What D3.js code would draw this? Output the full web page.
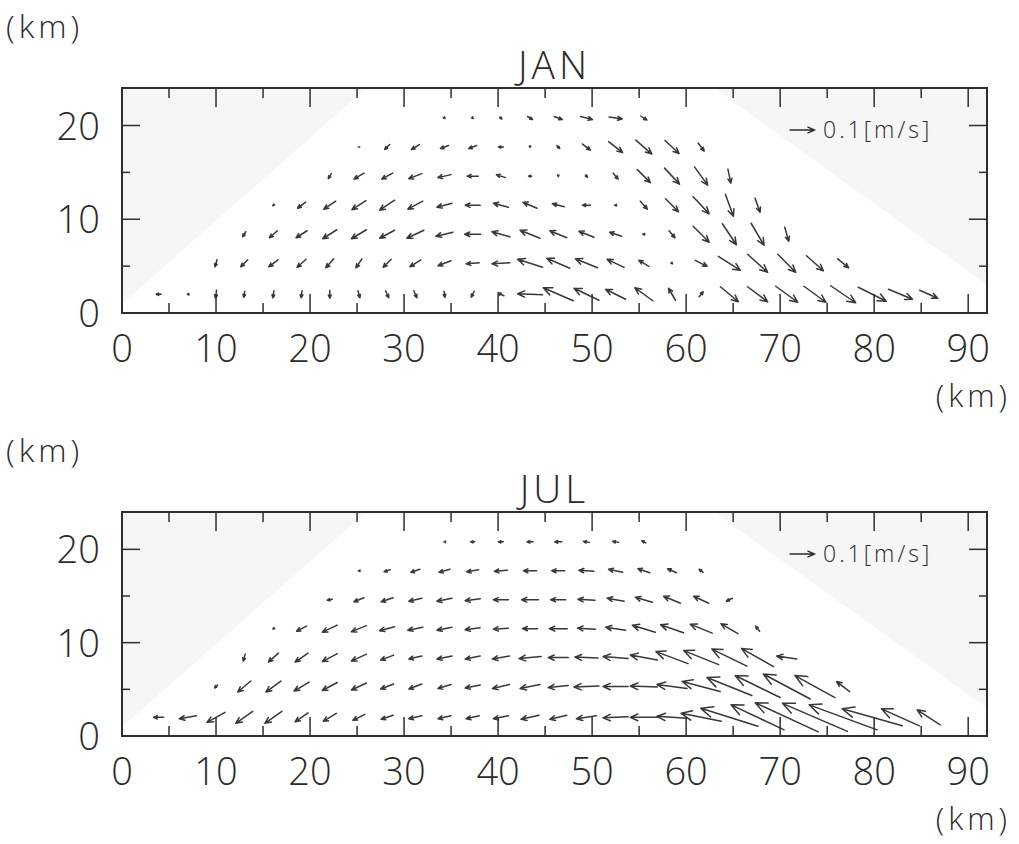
<!DOCTYPE html>
<html><head><meta charset="utf-8">
<script src="https://cdn.jsdelivr.net/npm/d3@7"></script>
<style>
body{margin:0;background:#fff}
svg{display:block}
text{font-family:"Open Sans","DejaVu Sans",sans-serif;font-weight:300;fill:#2b2b2b}
</style>
</head><body>
<svg id="c" width="1019" height="844"></svg>
<script>
const _ = null;
// grid of vector positions (km)
const xCols = [3.9, 7.0, 10.0, 13.0, 16.1, 19.1, 22.1, 25.2, 28.2, 31.2, 34.3, 37.3, 40.3, 43.4,
               46.4, 49.4, 52.5, 55.5, 58.5, 61.6, 64.6, 67.6, 70.7, 73.7, 76.7, 79.8, 82.8, 85.8];
const zRows = [2.0, 5.3, 8.4, 11.5, 14.6, 17.7, 20.8];
const xTickLabels = [0, 10, 20, 30, 40, 50, 60, 70, 80, 90];
const yTickLabels = [0, 10, 20];
const refSpeed = 10;   // cm/s  (0.1 m/s)
const refLabel = "0.1[m/s]";

// JAN  horizontal component u (cm/s), rows bottom -> top
const janU = [
 [-2,-0.4,-0.4,-0.4,-0.4,-0.4,0,0.8,1.2,1.2,0.4,-1.2,-2.4,-10,-12,-10,-8,-7.2,-2.8,1.6,7.2,8,8.8,8.8,10,11.2,9.6,7.2],
 [_,_,-0.8,-2.8,-3.6,-3.6,-3.2,-2.4,-3.2,-4.4,-5.2,-5.2,-7.2,-10,-9.2,-8.8,-6.8,-4,0.4,4.8,8.8,8,7.2,6.8,4.4,_,_,_],
 [_,_,_,-1.2,-3.2,-4.4,-5.6,-6,-6,-6.8,-6.8,-6.4,-7.2,-8,-6.8,-6,-4.8,-0.8,2.4,6.4,5.6,5.2,1.6,_,_,_,_,_],
 [_,_,_,_,-0.4,-3.2,-4.8,-5.6,-6,-6,-6,-6,-6,-5.6,-4.8,-3.2,-0.8,2.8,5.2,6.4,3.2,2,_,_,_,_,_,_],
 [_,_,_,_,_,_,-1.2,-4,-4.4,-5.2,-5.2,-4.4,-3.6,-1.2,0,0.8,2,5.2,6,5.2,1.2,_,_,_,_,_,_,_],
 [_,_,_,_,_,_,_,0.2,-2,-3.2,-3.2,-3.2,-2,0,1.2,3.2,5.6,6.4,5.6,2.4,_,_,_,_,_,_,_,_],
 [_,_,_,_,_,_,_,_,_,_,0.4,0.4,0.8,2,3.2,4.8,5.2,2.4,_,_,_,_,_,_,_,_,_,_]
];
// JAN  vertical component w (display units, cm/s equivalent)
const janW = [
 [0,0,-3.2,-2.4,-2.8,-2.8,-3.2,-2.8,-2.8,-2.8,-2.4,-2.4,1.2,0.4,5.2,4.8,4,5.2,4.8,2,-6,-6,-6.4,-6.4,-6.8,-5.6,-4,-3.2],
 [_,_,-2.8,-2.8,-2.8,-3.2,-3.6,-3.6,-3.2,-2.8,-2,-0.4,-0.4,3.2,4,3.6,3.2,2.4,-0.4,-2.4,-5.6,-7.2,-7.2,-6,-3.6,_,_,_],
 [_,_,_,-2,-2.8,-2.8,-3.6,-3.6,-3.2,-3.2,-1.6,0,2,3.2,2.8,2.4,1.6,0,-2.8,-6.4,-8.4,-8.8,-5.6,_,_,_,_,_],
 [_,_,_,_,-0.4,-2.4,-3.2,-3.6,-4,-3.2,-1.6,0,1.6,2.4,1.2,0,0,-3.2,-5.2,-6.8,-8.8,-5.6,_,_,_,_,_,_],
 [_,_,_,_,_,_,-2,-2.4,-2.4,-2,-1.2,0,1.2,0,-0.4,-0.8,-2.4,-5.2,-6.4,-7.2,-5.6,_,_,_,_,_,_,_],
 [_,_,_,_,_,_,_,-0.2,-2,-2,-1.2,-1.2,0,-0.4,-1.2,-2.4,-4.4,-5.6,-5.2,-3.2,_,_,_,_,_,_,_,_],
 [_,_,_,_,_,_,_,_,_,_,-0.4,-0.4,-0.8,-1.2,-1.2,-1.2,-0.8,-1.6,_,_,_,_,_,_,_,_,_,_]
];
// JUL  u
const julU = [
 [-4,-6.8,-7.2,-6.8,-6.8,-5.2,-5.2,-4.8,-4.8,-5.2,-5.2,-5.2,-6,-7.2,-6.8,-8,-10,-10.8,-12,-16,-22.8,-21.2,-25.2,-26,-27.2,-24,-15.2,-9.2],
 [_,_,-1.2,-5.2,-6,-6,-6,-6,-5.2,-5.2,-5.2,-6,-6.8,-8,-8,-10,-10,-10.8,-12,-15.2,-18,-18,-18.8,-16,-5.2,_,_,_],
 [_,_,_,-0.8,-4,-5.2,-6,-6,-5.2,-5.2,-6,-6,-6.8,-8.8,-8,-9.2,-10,-10.8,-12.8,-14,-14,-12.8,-8,_,_,_,_,_],
 [_,_,_,_,-0.4,-4,-6,-6,-6,-6,-6,-6,-6,-6,-7.2,-7.2,-8,-9.2,-9.2,-8.8,-6.8,-1.6,_,_,_,_,_,_],
 [_,_,_,_,_,_,-2,-4,-4.8,-5.2,-6,-6,-6,-6.8,-6,-6.8,-6.8,-6.8,-6.8,-6,-2.4,_,_,_,_,_,_,_],
 [_,_,_,_,_,_,_,-0.4,-2.4,-3.6,-4.4,-4.8,-5.2,-5.2,-5.2,-6,-5.6,-4.8,-3.6,-1.6,_,_,_,_,_,_,_,_],
 [_,_,_,_,_,_,_,_,_,_,-0.4,-1.6,-2,-2.4,-2.8,-2.4,-2.4,-1.6,_,_,_,_,_,_,_,_,_,_]
];
// JUL  w
const julW = [
 [0,-1.2,-4,-4.8,-4.8,-3.6,-3.2,-2.4,-1.6,-1.2,-1.2,-1.2,-1.2,-1.6,-1.6,-1.2,-0.4,0,0.8,3.2,7.2,10,11.6,11.2,10,6.8,6.8,6],
 [_,_,-1.2,-4.4,-4.4,-3.6,-3.2,-2.8,-2,-2,-1.6,-1.2,-1.6,-1.6,-0.8,-0.4,0,0.4,1.6,4,7.2,8.8,10,8.8,4,_,_,_],
 [_,_,_,-2.8,-3.6,-3.6,-3.2,-2.8,-2,-1.2,-1.2,-1.2,-1.2,-0.8,0,0.4,0.8,2,4.8,5.6,6.8,7.2,1.2,_,_,_,_,_],
 [_,_,_,_,-0.2,-2,-2.8,-2.4,-1.6,-1.2,-1.2,-0.8,-0.4,0,0,0.4,1.2,2.8,3.2,3.6,4,2,_,_,_,_,_,_],
 [_,_,_,_,_,_,-0.4,-1.6,-1.6,-1.2,-1.2,-0.8,0,0,0,0.4,1.2,2,2.8,2.8,-1.2,_,_,_,_,_,_,_],
 [_,_,_,_,_,_,_,0,-0.8,-1.2,-1.2,-0.8,-0.4,0,0,0.4,1.2,1.6,1.6,1.2,_,_,_,_,_,_,_,_],
 [_,_,_,_,_,_,_,_,_,_,0,0,0,0,0,0.4,0.4,0.8,_,_,_,_,_,_,_,_,_,_]
];
// faint shaded outline of the valid-data region (km)
const regionX = [0, 92, 92, 63, 26, 0];
const regionZ = [0, 0, 3, 24, 24, 1];

const panels = [
  {title: "JAN", top: 88, bottom: 313, U: janU, W: janW},
  {title: "JUL", top: 512, bottom: 736, U: julU, W: julW}
];

const svg = d3.select("#c");
const ink = "#2e2e2e";
const x = d3.scaleLinear().domain([0, 92]).range([122, 987]);
const len = d3.scaleLinear().domain([0, refSpeed]).range([0, 25]);

function arrowPath(cx, cy, dx, dy) {
  const L = Math.hypot(dx, dy);
  const p = d3.path();
  if (L < 0.8) { p.moveTo(cx - 0.7, cy); p.lineTo(cx + 0.7, cy); return p.toString(); }
  const tx = cx - dx / 2, ty = cy - dy / 2, hx = cx + dx / 2, hy = cy + dy / 2;
  p.moveTo(tx, ty); p.lineTo(hx, hy);
  const h = Math.min(13, Math.max(1.8, 0.25 * L + 1.5));
  const a = Math.atan2(dy, dx), s = 0.42;
  p.moveTo(hx - h * Math.cos(a - s), hy - h * Math.sin(a - s));
  p.lineTo(hx, hy);
  p.lineTo(hx - h * Math.cos(a + s), hy - h * Math.sin(a + s));
  return p.toString();
}

panels.forEach(P => {
  const y = d3.scaleLinear().domain([0, 24]).range([P.bottom, P.top]);
  const g = svg.append("g");
  const x0 = x(0), x1 = x(92);

  // light background and white data region
  g.append("rect").attr("x", x0).attr("y", P.top).attr("width", x1 - x0)
    .attr("height", P.bottom - P.top).attr("fill", "#f6f6f6");
  g.append("path").attr("fill", "#fff")
    .attr("d", d3.line()(regionX.map((v, i) => [x(v), y(regionZ[i])])) + "Z");

  // vectors
  const vecs = [];
  P.U.forEach((row, r) => row.forEach((u, c) => {
    if (u === null) return;
    vecs.push({x: xCols[c], z: zRows[r], u: u, w: P.W[r][c]});
  }));
  g.append("g").selectAll("path").data(vecs).join("path")
    .attr("d", d => arrowPath(x(d.x), y(d.z), Math.sign(d.u) * len(Math.abs(d.u)), -Math.sign(d.w) * len(Math.abs(d.w))))
    .attr("fill", "none").attr("stroke", "#383838").attr("stroke-width", 1.5)
    .attr("stroke-linecap", "round").attr("stroke-linejoin", "round");

  // ticks (inward)
  const tk = g.append("g").attr("stroke", ink).attr("stroke-width", 1.5);
  d3.range(5, 91, 5).forEach(v => {
    const L = v % 10 === 0 ? 19 : 10;
    tk.append("line").attr("x1", x(v)).attr("x2", x(v)).attr("y1", P.bottom).attr("y2", P.bottom - L);
    tk.append("line").attr("x1", x(v)).attr("x2", x(v)).attr("y1", P.top).attr("y2", P.top + L);
  });
  [5, 10, 15, 20].forEach(v => {
    const L = v % 10 === 0 ? 18 : 8;
    tk.append("line").attr("x1", x0).attr("x2", x0 + L).attr("y1", y(v)).attr("y2", y(v));
    tk.append("line").attr("x1", x1).attr("x2", x1 - L).attr("y1", y(v)).attr("y2", y(v));
  });

  // frame
  g.append("rect").attr("x", x0).attr("y", P.top).attr("width", x1 - x0)
    .attr("height", P.bottom - P.top).attr("fill", "none").attr("stroke", ink).attr("stroke-width", 2);

  // tick labels
  g.selectAll("text.xl").data(xTickLabels).join("text").attr("class", "xl")
    .attr("x", d => x(d)).attr("y", P.bottom + 49).attr("text-anchor", "middle")
    .attr("font-size", 38).text(d => d);
  g.selectAll("text.yl").data(yTickLabels).join("text").attr("class", "yl")
    .attr("x", 100).attr("y", d => y(d) + 14).attr("text-anchor", "end")
    .attr("font-size", 38).text(d => d);

  // titles and unit labels
  g.append("text").attr("x", (x0 + x1) / 2).attr("y", P.top - 9).attr("text-anchor", "middle")
    .attr("font-size", 39).attr("letter-spacing", 4).text(P.title);
  g.append("text").attr("x", 6).attr("y", P.top - 50).attr("font-size", 32)
    .attr("letter-spacing", 4).text("(km)");
  g.append("text").attr("x", 1011).attr("y", P.bottom + 94).attr("text-anchor", "end")
    .attr("font-size", 31).attr("letter-spacing", 4).text("(km)");

  // reference vector
  const ly = P.top + 42;
  g.append("path").attr("d", arrowPath(802, ly, len(refSpeed), 0))
    .attr("fill", "none").attr("stroke", ink).attr("stroke-width", 1.4);
  g.append("text").attr("x", 823).attr("y", ly + 8).attr("font-size", 23)
    .attr("letter-spacing", 3).text(refLabel);
});
</script>
</body></html>
